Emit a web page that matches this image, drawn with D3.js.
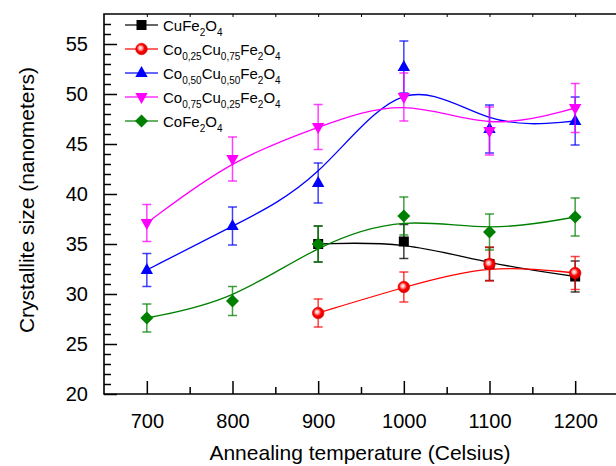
<!DOCTYPE html>
<html>
<head>
<meta charset="utf-8">
<script src="https://cdn.jsdelivr.net/npm/d3@7"></script>
<style>
  html, body { margin: 0; padding: 0; background: #fff; }
  svg { display: block; font-family: Arial, "Liberation Sans", sans-serif; }
</style>
</head>
<body>
<div id="chart"></div>
<script>
// ====== data ======
const temps = [700, 800, 900, 1000, 1100, 1200];

// label pakai {..} untuk subscript
const seriesNames = [
    "CuFe{2}O{4}",
    "Co{0,25}Cu{0,75}Fe{2}O{4}",
    "Co{0,50}Cu{0,50}Fe{2}O{4}",
    "Co{0,75}Cu{0,25}Fe{2}O{4}",
    "CoFe{2}O{4}"
];
const seriesColors = ["#000000", "#ff0000", "#0000ff", "#ff00ff", "#008000"];
const seriesSymbols = ["square", "sphere", "triangle", "triangleDown", "diamond"];

const sizeCuFe  = [null, null, 35.0, 35.25, 33.0, 31.75];
const errCuFe   = [null, null, 1.8, 1.7, 1.65, 1.55];
const sizeCo25  = [null, null, 28.1, 30.7, 33.0, 32.1];
const errCo25   = [null, null, 1.4, 1.5, 1.7, 1.65];
const sizeCo50  = [32.4, 36.8, 41.1, 52.7, 46.5, 47.3];
const errCo50   = [1.65, 1.9, 2.0, 2.6, 2.4, 2.4];
const sizeCo75  = [37.1, 43.5, 46.7, 49.7, 46.3, 48.6];
const errCo75   = [1.85, 2.2, 2.25, 2.4, 2.4, 2.45];
const sizeCoFe  = [27.6, 29.3, 35.0, 37.8, 36.2, 37.7];
const errCoFe   = [1.4, 1.45, 1.8, 1.9, 1.8, 1.9];

const seriesValues = [sizeCuFe, sizeCo25, sizeCo50, sizeCo75, sizeCoFe];
const seriesErrors = [errCuFe, errCo25, errCo50, errCo75, errCoFe];

const yTicks = [20, 25, 30, 35, 40, 45, 50, 55];
const xTicks = [700, 800, 900, 1000, 1100, 1200];

const xTitle = "Annealing temperature (Celsius)";
const yTitle = "Crystallite size (nanometers)";

// ====== layout ======
const width = 616, height = 466;
const margin = { left: 104, top: 14, right: -2, bottom: 72 };

const svg = d3.select("#chart").append("svg")
    .attr("width", width)
    .attr("height", height);

const defs = svg.append("defs");
const grad = defs.append("radialGradient")
    .attr("id", "sphere")
    .attr("cx", "0.45").attr("cy", "0.45").attr("r", "0.6")
    .attr("fx", "0.4").attr("fy", "0.4");
grad.append("stop").attr("offset", "0").attr("stop-color", "#ffffff");
grad.append("stop").attr("offset", "0.25").attr("stop-color", "#ffb0b0");
grad.append("stop").attr("offset", "0.55").attr("stop-color", "#ff0000");
grad.append("stop").attr("offset", "1").attr("stop-color", "#d00000");

const x = d3.scaleLinear()
    .domain([650, 1250])
    .range([margin.left, width - margin.right]);

const y = d3.scaleLinear()
    .domain([20, 58])
    .range([height - margin.bottom, margin.top]);

// ====== axes ======
const axisColor = "#000";
const fontStack = "Arial, 'Liberation Sans', sans-serif";

// bottom: major + minor, tick ke dalam
const xMinor = d3.range(750, 1251, 100);
svg.append("g")
    .attr("transform", `translate(0,${y(20)})`)
    .call(d3.axisBottom(x).tickValues(xMinor).tickSize(-7).tickFormat(""))
    .call(g => g.select(".domain").remove())
    .selectAll("line").attr("stroke-width", 1.5);

svg.append("g")
    .attr("transform", `translate(0,${y(20)})`)
    .call(d3.axisBottom(x).tickValues(xTicks).tickSize(-13).tickPadding(20)
        .tickFormat(d3.format("d")))
    .call(g => g.select(".domain").remove())
    .call(g => g.selectAll("line").attr("stroke-width", 1.5))
    .call(g => g.selectAll("text")
        .attr("font-size", 20)
        .attr("fill", "#000")
        .attr("font-family", fontStack));

// top: tick kecil
svg.append("g")
    .attr("transform", `translate(0,${y(58)})`)
    .call(d3.axisTop(x).tickValues(d3.range(700, 1251, 50)).tickSize(-3).tickFormat(""))
    .call(g => g.select(".domain").remove())
    .selectAll("line").attr("stroke-width", 1);

// left: minor tiap 1, major tiap 5
const yMinor = d3.range(21, 58).filter(v => v % 5 !== 0);
svg.append("g")
    .attr("transform", `translate(${x(650)},0)`)
    .call(d3.axisLeft(y).tickValues(yMinor).tickSize(-7).tickFormat(""))
    .call(g => g.select(".domain").remove())
    .selectAll("line").attr("stroke-width", 1.5);

svg.append("g")
    .attr("transform", `translate(${x(650)},0)`)
    .call(d3.axisLeft(y).tickValues(yTicks).tickSize(-13).tickPadding(16))
    .call(g => g.select(".domain").remove())
    .call(g => g.selectAll("line").attr("stroke-width", 1.5))
    .call(g => g.selectAll("text")
        .attr("font-size", 20)
        .attr("fill", "#000")
        .attr("font-family", fontStack));

// frame (kiri, bawah, atas)
svg.append("path")
    .attr("d", `M${width + 2},${y(58)} H${x(650)} V${y(20)} H${width + 2}`)
    .attr("fill", "none")
    .attr("stroke", axisColor)
    .attr("stroke-width", 1.6);

// axis titles
svg.append("text")
    .attr("x", (x(650) + width) / 2)
    .attr("y", 460)
    .attr("text-anchor", "middle")
    .attr("font-size", 21)
    .text(xTitle);

svg.append("text")
    .attr("transform", `translate(34,${(y(20) + y(58)) / 2 - 4}) rotate(-90)`)
    .attr("text-anchor", "middle")
    .attr("font-size", 21)
    .text(yTitle);

// ====== markers ======
function drawSymbol(g, type, color, cx, cy) {
    if (type === "square") {
        g.append("rect")
            .attr("x", cx - 5).attr("y", cy - 5)
            .attr("width", 10).attr("height", 10)
            .attr("fill", color);
    } else if (type === "sphere") {
        g.append("circle")
            .attr("cx", cx).attr("cy", cy).attr("r", 5.8)
            .attr("fill", "url(#sphere)")
            .attr("stroke", "#e00000").attr("stroke-width", 0.6);
    } else if (type === "triangle") {
        g.append("path")
            .attr("d", `M${cx},${cy - 7} L${cx + 6.2},${cy + 4} L${cx - 6.2},${cy + 4} Z`)
            .attr("fill", color);
    } else if (type === "triangleDown") {
        g.append("path")
            .attr("d", `M${cx},${cy + 7} L${cx + 6.2},${cy - 4} L${cx - 6.2},${cy - 4} Z`)
            .attr("fill", color);
    } else if (type === "diamond") {
        g.append("path")
            .attr("d", `M${cx},${cy - 6.5} L${cx + 6.5},${cy} L${cx},${cy + 6.5} L${cx - 6.5},${cy} Z`)
            .attr("fill", color);
    }
}

const line = d3.line()
    .x(d => x(d.t))
    .y(d => y(d.v))
    .curve(d3.curveBasis);

const plot = svg.append("g");

seriesValues.forEach((vals, i) => {
    const color = seriesColors[i];
    const pts = temps
        .map((t, j) => ({ t, v: vals[j], e: seriesErrors[i][j] }))
        .filter(d => d.v != null);

    const g = plot.append("g");

    // kurva B-spline
    g.append("path")
        .datum(pts)
        .attr("d", line)
        .attr("fill", "none")
        .attr("stroke", color)
        .attr("stroke-width", 1.3);

    // error bars
    const eb = g.append("g")
        .attr("stroke", color)
        .attr("stroke-opacity", 0.75)
        .attr("stroke-width", 1.5);
    pts.forEach(d => {
        const px = x(d.t), y1 = y(d.v + d.e), y2 = y(d.v - d.e);
        eb.append("line").attr("x1", px).attr("x2", px).attr("y1", y1).attr("y2", y2);
        eb.append("line").attr("x1", px - 4.5).attr("x2", px + 4.5).attr("y1", y1).attr("y2", y1);
        eb.append("line").attr("x1", px - 4.5).attr("x2", px + 4.5).attr("y1", y2).attr("y2", y2);
    });

    pts.forEach(d => drawSymbol(g, seriesSymbols[i], color, x(d.t), y(d.v)));
});

// ====== legend ======
const legend = svg.append("g");
seriesNames.forEach((name, i) => {
    const ly = 25 + i * 24;
    const color = seriesColors[i];
    legend.append("line")
        .attr("x1", 125).attr("x2", 158)
        .attr("y1", ly).attr("y2", ly)
        .attr("stroke", color)
        .attr("stroke-opacity", 0.8)
        .attr("stroke-width", 1.3);
    drawSymbol(legend, seriesSymbols[i], color, 141.5, ly);

    const text = legend.append("text")
        .attr("x", 163)
        .attr("y", ly + 5.5)
        .attr("font-size", 15);
    // pecah jadi teks biasa & subscript
    const parts = name.match(/\{[^}]*\}|[^{}]+/g);
    let shifted = false;
    parts.forEach(p => {
        const isSub = p.startsWith("{");
        const ts = text.append("tspan").text(isSub ? p.slice(1, -1) : p);
        if (isSub) {
            ts.attr("font-size", 10).attr("dy", shifted ? 0 : 5);
            shifted = true;
        } else {
            ts.attr("dy", shifted ? -5 : 0);
            shifted = false;
        }
    });
});
</script>
</body>
</html>
